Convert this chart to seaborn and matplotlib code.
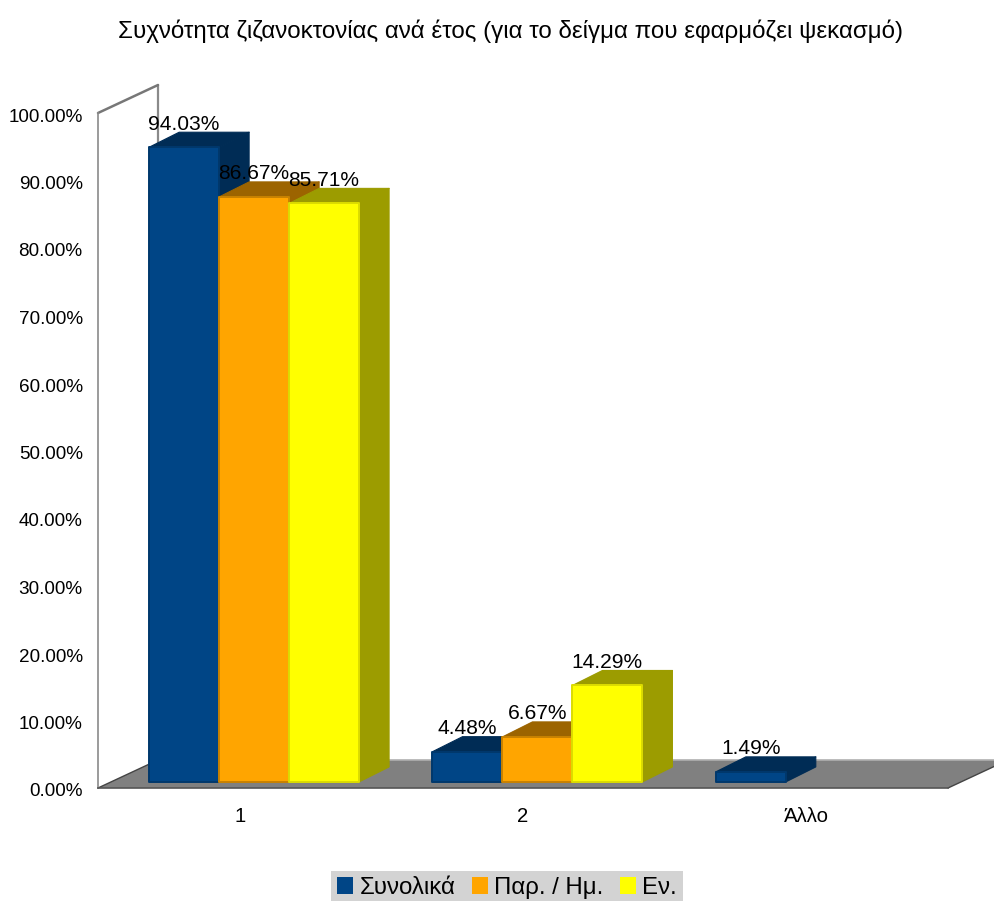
import matplotlib
matplotlib.use("Agg")
import matplotlib.pyplot as plt
from matplotlib.patches import Polygon, Patch
from matplotlib.lines import Line2D
from matplotlib.transforms import IdentityTransform, Affine2D
import numpy as np
import pandas as pd
import seaborn as sns

categories = ["1", "2", "Άλλο"]
series_names = ["Συνολικά", "Παρ. / Ημ.", "Εν."]
total_values = [94.03, 4.48, 1.49]
partial_values = [86.67, 6.67, np.nan]
env_values = [85.71, 14.29, np.nan]
y_ticks = [0, 10, 20, 30, 40, 50, 60, 70, 80, 90, 100]
title = "Συχνότητα ζιζανοκτονίας ανά έτος (για το δείγμα που εφαρμόζει ψεκασμό)"

front_colors = ["#004586", "#FFA500", "#FFFF00"]
rim_colors = ["#00386C", "#C98200", "#DCDC00"]
side_colors = ["#002C55", "#9C6400", "#9C9C00"]

sns.set_theme(style="white")
plt.rcParams["font.family"] = ["Liberation Sans", "DejaVu Sans"]

W, H = 994, 901
fig = plt.figure(figsize=(W / 100, H / 100), dpi=100, facecolor="white")
ax = fig.add_axes([98 / W, 1 - 788 / H, 850 / W, 675 / H])

df = pd.DataFrame({
    "cat": categories * 3,
    "series": np.repeat(series_names, 3),
    "value": total_values + partial_values + env_values,
})

BASE_LIFT = 0.9    # bars stand slightly behind the front edge of the floor
DEPTH_SHIFT = 0.051  # and slightly to the right of their category centre
sns.barplot(data=df, x="cat", y="value", hue="series", order=categories,
            hue_order=series_names, palette=front_colors, width=0.741,
            saturation=1, ax=ax, errorbar=None, legend=False)

ax.set_xlim(-0.5, 2.5)
ax.set_ylim(0, 100)
ax.set_yticks(y_ticks)
ax.set_yticklabels([f"{t:.2f}%" for t in y_ticks], fontsize=13.6, color="black")
ax.tick_params(axis="y", length=0, pad=11)
ax.tick_params(axis="x", length=0, pad=14, labelsize=14.6, labelcolor="black")
down2 = Affine2D().translate(0, -2)
for lab in ax.get_yticklabels():
    lab.set_transform(lab.get_transform() + down2)
ax.set_xlabel("")
ax.set_ylabel("")
ax.patch.set_visible(False)
for s in ["top", "right"]:
    ax.spines[s].set_visible(False)
ax.spines["left"].set_color("#8a8a8a")
ax.spines["left"].set_linewidth(1.2)
ax.spines["bottom"].set_color("#555555")
ax.spines["bottom"].set_linewidth(1.2)

# Pseudo-3D depth of the floor and wall, in pixels
DX, DY = 60, 28
BDX, BDY = 30, 15
idt = IdentityTransform()
(x0, y0), (x1, y1) = ax.transAxes.transform([(0, 0), (1, 1)])

ax.add_patch(Polygon([(x0, y0), (x1, y0), (x1 + DX, y0 + DY), (x0 + DX, y0 + DY)],
                     closed=True, transform=idt, facecolor="#808080",
                     edgecolor="none", clip_on=False, zorder=0.5))
for pts, col, lw in [
    ([(x0 + DX, y0 + DY), (x0 + DX, y1 + DY)], "#8a8a8a", 1.6),
    ([(x0, y1), (x0 + DX, y1 + DY)], "#777777", 1.8),
    ([(x0 + DX, y0 + DY), (x1 + DX, y0 + DY)], "#b0b0b0", 1.2),
    ([(x0, y0), (x0 + DX, y0 + DY)], "#444444", 1.0),
    ([(x1, y0), (x1 + DX, y0 + DY)], "#444444", 1.0),
]:
    xs, ys = zip(*pts)
    ax.add_line(Line2D(xs, ys, transform=idt, color=col, lw=lw,
                       clip_on=False, zorder=0.6))

# Extrude each bar and write its value
bars = []
for s_idx, cont in enumerate(ax.containers):
    for rect in cont:
        h = rect.get_height()
        if np.isnan(h) or h <= 0:
            continue
        bars.append((rect.get_x(), s_idx, rect, h))
bars.sort(key=lambda b: b[0])

z = 3.0
for _, s_idx, rect, h in bars:
    z += 1
    rect.set_y(BASE_LIFT)
    rect.set_x(rect.get_x() + DEPTH_SHIFT)
    xl, base = ax.transData.transform((rect.get_x(), rect.get_y()))
    xr, top = ax.transData.transform((rect.get_x() + rect.get_width(),
                                      rect.get_y() + h))
    side = side_colors[s_idx]
    ax.add_patch(Polygon([(xr, top), (xr + BDX, top + BDY), (xr + BDX, base + BDY), (xr, base)],
                         closed=True, transform=idt, facecolor=side, edgecolor=side,
                         lw=0.8, joinstyle="round", clip_on=False, zorder=z))
    ax.add_patch(Polygon([(xl, top), (xl + BDX, top + BDY), (xr + BDX, top + BDY), (xr, top)],
                         closed=True, transform=idt, facecolor=side, edgecolor=side,
                         lw=0.8, joinstyle="round", clip_on=False, zorder=z))
    rect.set_edgecolor(rim_colors[s_idx])
    rect.set_linewidth(1.4)
    rect.set_joinstyle("round")
    rect.set_zorder(z + 0.5)
    rect.set_clip_on(False)
    ax.annotate(f"{h:.2f}%", xy=(rect.get_x() + rect.get_width() / 2, rect.get_y() + h),
                xytext=(0, 23 * 0.72), textcoords="offset points", ha="center",
                va="center", fontsize=15.1, color="black", zorder=100,
                annotation_clip=False)

fig.text(511 / W, 1 - 31 / H, title, ha="center", va="center", fontsize=17.4, color="black")

handles = [Patch(facecolor=c, edgecolor="none", label=n)
           for c, n in zip(front_colors, series_names)]
leg = ax.legend(handles=handles, loc="center", bbox_to_anchor=(507 / W, 1 - 888 / H),
                bbox_transform=fig.transFigure, ncol=3, frameon=True, fancybox=False,
                facecolor="#D3D3D3", edgecolor="none", framealpha=1, fontsize=17.3,
                labelcolor="black", handlelength=0.67, handleheight=0.67,
                handletextpad=0.25, columnspacing=0.7, borderpad=0.27, borderaxespad=0)
leg.set_zorder(200)

fig.savefig("out.png", dpi=100, facecolor="white")
